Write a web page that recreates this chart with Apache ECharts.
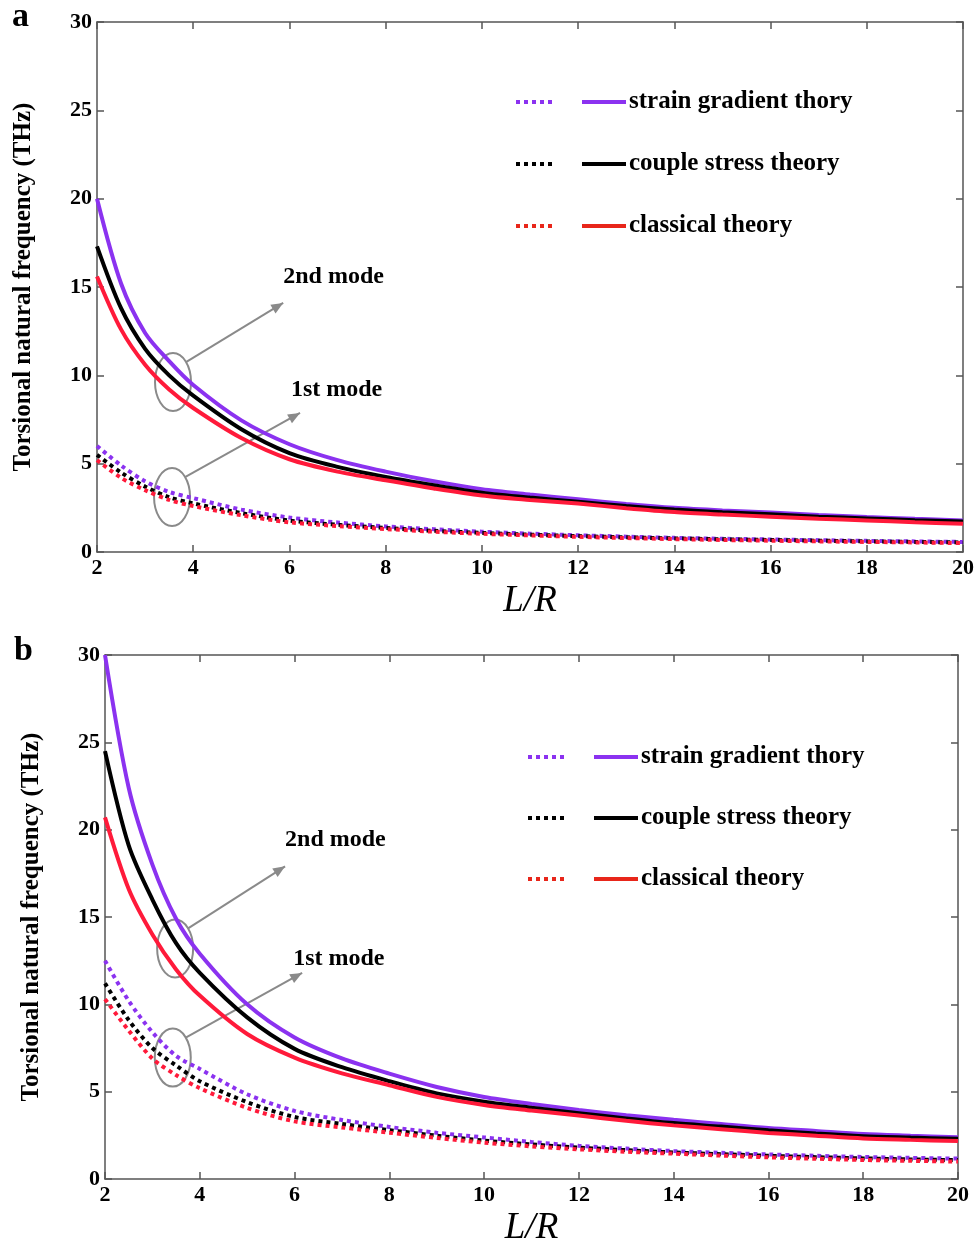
<!DOCTYPE html>
<html><head><meta charset="utf-8">
<script src="https://cdn.jsdelivr.net/npm/echarts@6/dist/echarts.min.js"></script>
<style>html,body{margin:0;padding:0;background:#fff}#c{width:979px;height:1248px}</style>
</head><body><div id="c"></div>
<script>
// ---- data ----
const xVals = [2,2.5,3,3.5,4,5,6,7,8,9,10,11,12,13,14,15,16,17,18,19,20];
const xTicks = [2,4,6,8,10,12,14,16,18,20];
const yTicks = [0,5,10,15,20,25,30];
const seriesNames = ['strain gradient thory','couple stress theory','classical theory'];
// Panel a – 2nd mode (solid)
const aSG2 = [20,15.2,12.4,10.8,9.45,7.45,6.1,5.2,4.55,4.0,3.55,3.25,2.98,2.72,2.5,2.35,2.23,2.1,1.98,1.88,1.79];
const aCS2 = [17.3,13.8,11.5,10.0,8.85,6.95,5.6,4.82,4.25,3.78,3.36,3.08,2.85,2.6,2.4,2.25,2.13,2.0,1.9,1.8,1.72];
const aCL2 = [15.6,12.6,10.6,9.2,8.15,6.45,5.25,4.55,4.06,3.6,3.2,2.95,2.74,2.48,2.26,2.12,2.0,1.88,1.79,1.68,1.6];
// Panel a – 1st mode (dotted)
const aSG1 = [6.0,4.9,4.0,3.4,3.05,2.4,1.95,1.67,1.45,1.29,1.15,1.04,0.95,0.87,0.8,0.75,0.71,0.67,0.63,0.6,0.57];
const aCS1 = [5.5,4.5,3.7,3.1,2.75,2.2,1.78,1.54,1.36,1.2,1.08,0.98,0.9,0.83,0.77,0.72,0.68,0.64,0.6,0.57,0.54];
const aCL1 = [5.2,4.2,3.5,2.95,2.6,2.08,1.68,1.47,1.3,1.15,1.03,0.94,0.86,0.79,0.73,0.68,0.64,0.6,0.57,0.54,0.5];
// Panel b – 2nd mode (solid)
const bSG2 = [30,22.4,18.0,14.9,12.9,10.0,8.1,6.9,6.03,5.27,4.7,4.3,3.95,3.65,3.39,3.15,2.92,2.75,2.58,2.48,2.39];
const bCS2 = [24.5,19.1,16.0,13.5,11.8,9.25,7.45,6.4,5.6,4.9,4.43,4.08,3.77,3.47,3.2,3.0,2.79,2.6,2.45,2.37,2.3];
const bCL2 = [20.7,16.6,14.0,12.0,10.5,8.3,6.95,6.05,5.37,4.7,4.24,3.92,3.63,3.33,3.07,2.85,2.64,2.48,2.32,2.24,2.17];
// Panel b – 1st mode (dotted)
const bSG1 = [12.5,10.2,8.4,7.05,6.3,4.85,3.9,3.38,2.98,2.65,2.38,2.12,1.9,1.74,1.6,1.5,1.41,1.33,1.26,1.21,1.17];
const bCS1 = [11.2,9.1,7.5,6.5,5.6,4.4,3.55,3.15,2.8,2.48,2.2,1.98,1.8,1.65,1.52,1.42,1.33,1.25,1.18,1.12,1.08];
const bCL1 = [10.3,8.5,6.9,5.95,5.2,4.07,3.3,2.95,2.65,2.35,2.08,1.87,1.7,1.56,1.45,1.34,1.24,1.16,1.09,1.04,1.0];
// annotations (data coordinates): ellipse centre, arrow tip, label anchor
const annA = [
  {label:'2nd mode', ell:[3.58,9.62], tip:[5.87,14.1], text:[5.87,15.6]},
  {label:'1st mode', ell:[3.56,3.11], tip:[6.22,7.87], text:[6.03,9.2]}
];
const annB = [
  {label:'2nd mode', ell:[3.48,13.2], tip:[5.8,17.9], text:[5.8,19.4]},
  {label:'1st mode', ell:[3.43,6.95], tip:[6.16,11.8], text:[5.97,12.6]}
];

// ---- styling ----
const COL = ['#8B32F0','#000000','#FF1A3A'];
const LEGCOL = ['#8B32F0','#000000','#E8261A'];
const FONT = 'Liberation Serif';
const axisLineCol = '#555';

const chart = echarts.init(document.getElementById('c'), null, {renderer:'canvas'});

const grids = [
  {left:97, right:16, top:22, bottom:696},
  {left:105, right:21, top:655, bottom:62}
];

function mkX(gi, pos) {
  const main = pos === 'bottom';
  return {
    type:'value', gridIndex:gi, position:pos, min:2, max:20, interval:2,
    axisLine:{show:true, onZero:false, lineStyle:{color:axisLineCol, width:1.5}},
    axisTick:{show:true, inside:true, length:7, lineStyle:{color:axisLineCol, width:1.5}},
    axisLabel:{show:main, color:'#000', fontFamily:FONT, fontWeight:'bold', fontSize:22, margin:5,
      formatter:v => xTicks.includes(v) ? String(v) : ''},
    splitLine:{show:false},
    name: main ? 'L/R' : '', nameLocation:'middle', nameGap:31,
    nameTextStyle:{fontFamily:FONT, fontStyle:'italic', fontSize:37, color:'#000'}
  };
}
function mkY(gi, pos) {
  const main = pos === 'left';
  return {
    type:'value', gridIndex:gi, position:pos, min:0, max:30, interval:5,
    axisLine:{show:true, onZero:false, lineStyle:{color:axisLineCol, width:1.5}},
    axisTick:{show:true, inside:true, length:7, lineStyle:{color:axisLineCol, width:1.5}},
    axisLabel:{show:main, color:'#000', fontFamily:FONT, fontWeight:'bold', fontSize:22, margin:5,
      formatter:v => yTicks.includes(v) ? String(v) : ''},
    splitLine:{show:false},
    name: main ? 'Torsional natural frequency (THz)' : '', nameLocation:'middle', nameGap:61,
    nameTextStyle:{fontFamily:FONT, fontWeight:'bold', fontSize:25, color:'#000'}
  };
}

function mkSeries(arr, gi, ci, dotted) {
  return {
    type:'line', xAxisIndex: gi*2, yAxisIndex: gi*2, name: seriesNames[ci],
    data: xVals.map((x,i)=>[x, arr[i]]),
    smooth:0.3, symbol:'none', silent:true,
    lineStyle:{color:COL[ci], width:4, type: dotted ? [4,4] : 'solid'},
    z: 3 + ci
  };
}

const series = [
  mkSeries(aSG2,0,0,false), mkSeries(aCS2,0,1,false), mkSeries(aCL2,0,2,false),
  mkSeries(aSG1,0,0,true), mkSeries(aCS1,0,1,true), mkSeries(aCL1,0,2,true),
  mkSeries(bSG2,1,0,false), mkSeries(bCS2,1,1,false), mkSeries(bCL2,1,2,false),
  mkSeries(bSG1,1,0,true), mkSeries(bCS1,1,1,true), mkSeries(bCL1,1,2,true)
];

chart.setOption({
  animation:false,
  backgroundColor:'#fff',
  grid: grids,
  xAxis:[mkX(0,'bottom'), mkX(0,'top'), mkX(1,'bottom'), mkX(1,'top')],
  yAxis:[mkY(0,'left'), mkY(0,'right'), mkY(1,'left'), mkY(1,'right')],
  series: series
});

// ---- graphic: panel letters, legends, annotations ----
const g = [];
g.push({type:'text', left:12, top:0, style:{text:'a', font:'bold 34px "Liberation Serif"', fill:'#000'}});
g.push({type:'text', left:14, top:634, style:{text:'b', font:'bold 34px "Liberation Serif"', fill:'#000'}});

function legend(x0, y0, dy) {
  seriesNames.forEach((nm, i) => {
    const y = y0 + i*dy;
    g.push({type:'line', shape:{x1:x0, y1:y, x2:x0+38, y2:y}, style:{stroke:LEGCOL[i], lineWidth:4, lineDash:[4,4]}});
    g.push({type:'line', shape:{x1:x0+66, y1:y, x2:x0+110, y2:y}, style:{stroke:LEGCOL[i], lineWidth:4}});
    g.push({type:'text', x:x0+113, y:y, style:{text:nm, font:'bold 25px "Liberation Serif"', fill:'#000', textVerticalAlign:'middle'}});
  });
}
legend(516, 102, 62);
legend(528, 757, 61);

function annotate(list, gi) {
  list.forEach(a => {
    const c = chart.convertToPixel({gridIndex:gi}, a.ell);
    const t = chart.convertToPixel({gridIndex:gi}, a.tip);
    const tx = chart.convertToPixel({gridIndex:gi}, a.text);
    const rx = 18, ry = 29;
    g.push({type:'ellipse', shape:{cx:c[0], cy:c[1], rx:rx, ry:ry}, style:{fill:'none', stroke:'#8a8a8a', lineWidth:2}});
    const sx = c[0] + rx*0.72, sy = c[1] - ry*0.69;
    g.push({type:'line', shape:{x1:sx, y1:sy, x2:t[0], y2:t[1]}, style:{stroke:'#8a8a8a', lineWidth:2}});
    const ang = Math.atan2(t[1]-sy, t[0]-sx), L = 12, W = 5;
    const bx = t[0] - L*Math.cos(ang), by = t[1] - L*Math.sin(ang);
    g.push({type:'polygon', shape:{points:[[t[0],t[1]],[bx + W*Math.sin(ang), by - W*Math.cos(ang)],[bx - W*Math.sin(ang), by + W*Math.cos(ang)]]}, style:{fill:'#8a8a8a'}});
    g.push({type:'text', x:tx[0], y:tx[1], style:{text:a.label, font:'bold 24px "Liberation Serif"', fill:'#000', textVerticalAlign:'middle'}});
  });
}
annotate(annA, 0);
annotate(annB, 1);

chart.setOption({graphic: g});
</script>
</body></html>
